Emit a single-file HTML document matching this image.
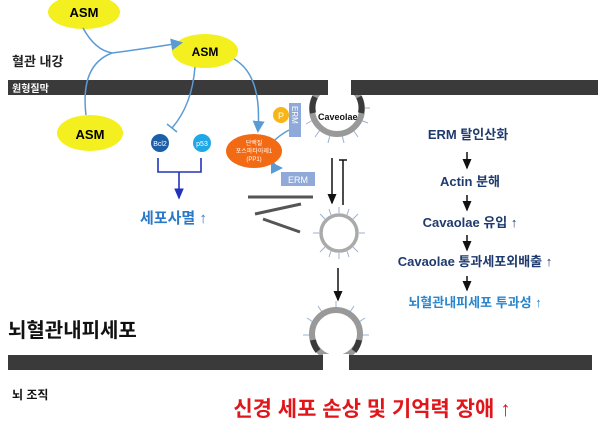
<!DOCTYPE html>
<html><head><meta charset="utf-8"><style>
html,body{margin:0;padding:0;background:#fff;}
svg{display:block;font-family:"Liberation Sans","Noto Sans CJK KR",sans-serif;}
</style></head><body>
<svg width="600" height="438" viewBox="0 0 600 438" xmlns="http://www.w3.org/2000/svg">
<defs>
<marker id="ab" markerWidth="8" markerHeight="8" refX="6" refY="4" orient="auto"><path d="M0,0 L8,4 L0,8 z" fill="#5b9bd5"/></marker>
<marker id="ak" markerWidth="8" markerHeight="8" refX="6" refY="4" orient="auto"><path d="M0,1 L7,4 L0,7 z" fill="#111"/></marker>
<marker id="an" markerWidth="8" markerHeight="8" refX="6" refY="4" orient="auto"><path d="M0,1 L7,4 L0,7 z" fill="#2233bb"/></marker>
</defs>
<!-- caveola cup -->
<g stroke="#9bb3d6" stroke-width="1">
<line x1="313" y1="120" x2="306" y2="124"/><line x1="320" y1="130" x2="315" y2="137"/><line x1="330" y1="135" x2="328" y2="143"/><line x1="342" y1="135" x2="344" y2="143"/><line x1="353" y1="130" x2="358" y2="137"/><line x1="360" y1="120" x2="368" y2="123"/><line x1="362" y1="108" x2="370" y2="108"/>
</g>
<circle cx="337" cy="109" r="25" fill="#fff" stroke="#999" stroke-width="6"/>
<path d="M315,97 A25,25 0 0 0 313,113" fill="none" stroke="#3a3a3a" stroke-width="6"/>
<path d="M359,97 A25,25 0 0 1 361,113" fill="none" stroke="#3a3a3a" stroke-width="6"/>
<!-- top membrane -->
<rect x="8" y="80" width="320" height="15" fill="#3a3a3a"/>
<rect x="351" y="80" width="247" height="15" fill="#3a3a3a"/>
<rect x="328" y="78" width="23" height="18" fill="#fff"/>
<text x="12" y="92" font-size="10" fill="#fff" font-weight="bold">원형질막</text>
<text x="318" y="120" font-size="9" font-weight="bold" fill="#111">Caveolae</text>
<!-- ASMs -->
<ellipse cx="84" cy="12" rx="36" ry="17" fill="#f4ef1e"/>
<text x="84" y="17" font-size="13" font-weight="bold" text-anchor="middle">ASM</text>
<ellipse cx="205" cy="51" rx="33" ry="17" fill="#f4ef1e"/>
<text x="205" y="56" font-size="12" font-weight="bold" text-anchor="middle">ASM</text>
<ellipse cx="90" cy="133" rx="33" ry="18" fill="#f4ef1e"/>
<text x="90" y="139" font-size="13" font-weight="bold" text-anchor="middle">ASM</text>
<text x="12" y="66" font-size="13" font-weight="bold" fill="#222">혈관 내강</text>
<!-- blue curves -->
<g fill="none" stroke="#5b9bd5" stroke-width="1.5">
<path d="M83,28 Q95,50 112,53 Q150,48 180,43" marker-end="url(#ab)"/>
<path d="M86,115 Q80,65 112,53"/>
<path d="M195,67 Q192,105 172,128"/>
<line x1="167" y1="124" x2="177" y2="132"/>
<path d="M234,59 Q262,75 258,130" marker-end="url(#ab)"/>
<path d="M289,130 Q278,136 272,143"/>
<path d="M272,160 Q276,168 280,168" marker-end="url(#ab)"/>
</g>
<!-- Bcl2 p53 -->
<circle cx="160" cy="143" r="9" fill="#1a5fa8"/>
<text x="160" y="146" font-size="7" fill="#fff" text-anchor="middle">Bcl2</text>
<circle cx="202" cy="143" r="9" fill="#20a8e6"/>
<text x="202" y="146" font-size="7" fill="#fff" text-anchor="middle">p53</text>
<path d="M158,158 V172 H201 V158 M179,172 V198" fill="none" stroke="#2233bb" stroke-width="1.6" marker-end="url(#an)"/>
<text x="140" y="223" font-size="15" font-weight="bold" fill="#2a79c8">세포사멸 ↑</text>
<!-- PP1 -->
<ellipse cx="254" cy="151" rx="28" ry="17" fill="#f36a14"/>
<text x="254" y="145" font-size="6" fill="#fff" text-anchor="middle">단백질</text>
<text x="254" y="153" font-size="6" fill="#fff" text-anchor="middle">포스파타아제1</text>
<text x="254" y="161" font-size="6" fill="#fff" text-anchor="middle">(PP1)</text>
<circle cx="281" cy="115" r="8" fill="#f7b616"/>
<text x="281" y="119" font-size="9" fill="#fff" text-anchor="middle">P</text>
<rect x="289" y="103" width="12" height="34" fill="#8fa9d8"/>
<text x="292" y="106" font-size="8" fill="#fff" transform="rotate(90 292 106)">ERM</text>
<rect x="281" y="172" width="34" height="14" fill="#8fa9d8"/>
<text x="298" y="183" font-size="9" fill="#fff" text-anchor="middle">ERM</text>
<!-- actin bars -->
<g stroke="#555" stroke-width="3">
<line x1="248" y1="197" x2="313" y2="197"/>
<line x1="255" y1="214" x2="301" y2="204"/>
<line x1="263" y1="219" x2="300" y2="232"/>
</g>
<!-- double arrows -->
<line x1="332" y1="158" x2="332" y2="203" stroke="#111" stroke-width="1.5" marker-end="url(#ak)"/>
<line x1="343" y1="160" x2="343" y2="205" stroke="#111" stroke-width="1.5"/>
<line x1="339" y1="160" x2="347" y2="160" stroke="#111" stroke-width="1.5"/>
<!-- free vesicle -->
<circle cx="339" cy="233" r="18" fill="none" stroke="#aaa" stroke-width="3.5"/>
<g stroke="#9bb3d6" stroke-width="1">
<line x1="339" y1="213" x2="339" y2="207"/><line x1="339" y1="253" x2="339" y2="259"/><line x1="319" y1="233" x2="313" y2="233"/><line x1="359" y1="233" x2="365" y2="233"/>
<line x1="325" y1="219" x2="320" y2="214"/><line x1="353" y1="219" x2="358" y2="214"/><line x1="325" y1="247" x2="320" y2="252"/><line x1="353" y1="247" x2="358" y2="252"/>
<line x1="331" y1="215" x2="329" y2="209"/><line x1="347" y1="215" x2="349" y2="209"/><line x1="331" y1="251" x2="329" y2="257"/><line x1="347" y1="251" x2="349" y2="257"/>
</g>
<line x1="338" y1="268" x2="338" y2="300" stroke="#111" stroke-width="1.5" marker-end="url(#ak)"/>
<!-- bottom vesicle & membrane -->
<g stroke="#9bb3d6" stroke-width="1">
<line x1="336" y1="308" x2="336" y2="301"/><line x1="322" y1="312" x2="318" y2="306"/><line x1="350" y1="312" x2="354" y2="306"/><line x1="313" y1="322" x2="307" y2="318"/><line x1="359" y1="322" x2="365" y2="318"/><line x1="310" y1="335" x2="303" y2="335"/><line x1="362" y1="335" x2="369" y2="335"/>
</g>
<circle cx="336" cy="334" r="24" fill="#fff" stroke="#999" stroke-width="6"/>
<path d="M313,340 A24,24 0 0 0 318,351" fill="none" stroke="#3a3a3a" stroke-width="6"/>
<path d="M359,340 A24,24 0 0 1 354,351" fill="none" stroke="#3a3a3a" stroke-width="6"/>
<rect x="8" y="355" width="315" height="15" fill="#3a3a3a"/>
<rect x="349" y="355" width="243" height="15" fill="#3a3a3a"/>
<rect x="323" y="354" width="26" height="18" fill="#fff"/>
<text x="8" y="337" font-size="20" font-weight="bold" fill="#111">뇌혈관내피세포</text>
<text x="12" y="399" font-size="12" font-weight="bold" fill="#111">뇌 조직</text>
<text x="372" y="416" font-size="21" font-weight="bold" fill="#e0161b" text-anchor="middle">신경 세포 손상 및 기억력 장애 ↑</text>
<!-- right column -->
<g font-size="13" font-weight="bold" fill="#1f3a6e" text-anchor="middle">
<text x="468" y="139">ERM 탈인산화</text>
<text x="470" y="186">Actin  분해</text>
<text x="470" y="227">Cavaolae 유입 ↑</text>
<text x="475" y="266">Cavaolae 통과세포외배출 ↑</text>
<text x="475" y="307" fill="#2a86cc">뇌혈관내피세포 투과성 ↑</text>
</g>
<g stroke="#111" stroke-width="1.5">
<line x1="467" y1="152" x2="467" y2="168" marker-end="url(#ak)"/>
<line x1="467" y1="195" x2="467" y2="210" marker-end="url(#ak)"/>
<line x1="467" y1="235" x2="467" y2="250" marker-end="url(#ak)"/>
<line x1="467" y1="276" x2="467" y2="290" marker-end="url(#ak)"/>
</g>
</svg>
</body></html>
